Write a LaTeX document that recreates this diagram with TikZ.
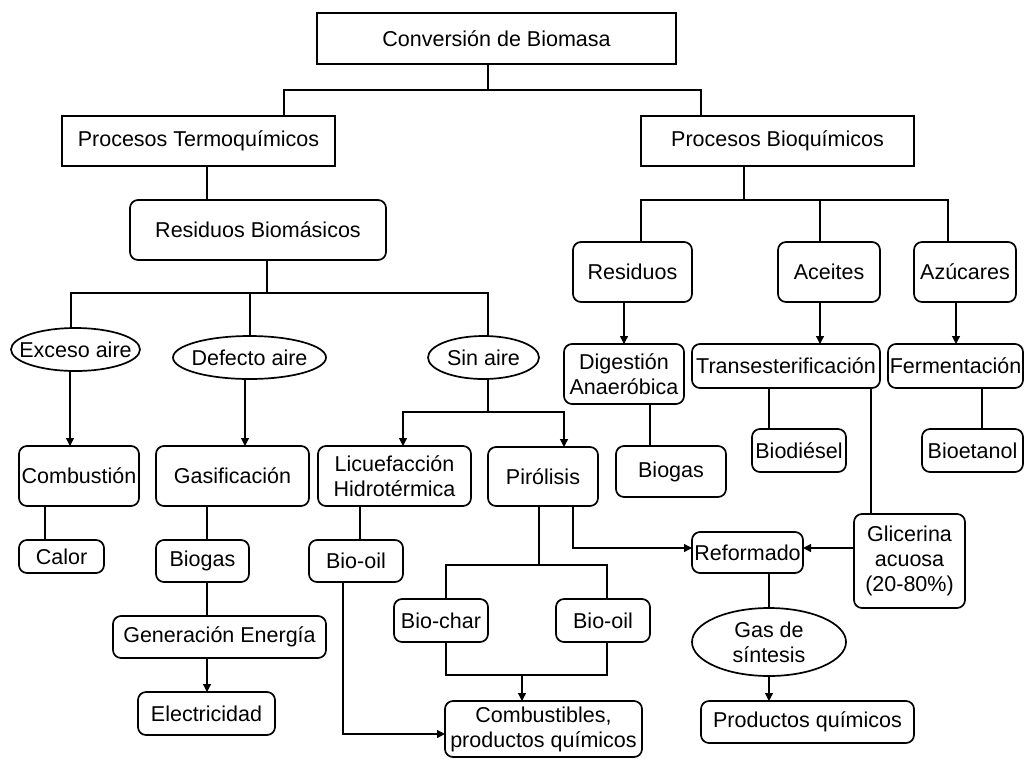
\documentclass[tikz,border=0pt]{standalone}
\usepackage{fontspec}
\setmainfont{Liberation Sans}
\usetikzlibrary{arrows.meta,shapes.geometric}
\newcommand{\zb}[1]{\makebox[0pt]{#1}}
\begin{document}
\begin{tikzpicture}[x=1pt,y=-1pt,
  every node/.style={font=\fontsize{21.5}{25}\selectfont, inner sep=0pt, outer sep=0pt},
  sq/.style={draw, line width=1.7pt, rectangle},
  rb/.style={draw, line width=1.7pt, rectangle, rounded corners=8pt},
  el/.style={draw, line width=1.7pt, ellipse},
  conn/.style={line width=1.2pt},
  arr/.style={line width=1.2pt, -{Triangle[length=8pt,width=8pt]}}]
\useasboundingbox (0,0) rectangle (1024,758);

% nodes
\node[sq, minimum width=359pt, minimum height=51pt] (conv) at (496.5,38.5) {Conversión de Biomasa};
\node[sq, minimum width=273pt, minimum height=50pt] (termo) at (198.5,141) {Procesos Termoquímicos};
\node[sq, minimum width=273pt, minimum height=50pt] (bio) at (777.5,141) {Procesos Bioquímicos};
\node[rb, minimum width=256pt, minimum height=60pt] (resbio) at (258,230) {Residuos Biomásicos};
\node[el, minimum width=129pt, minimum height=43pt] (exceso) at (75.5,349.5) {\zb{Exceso aire}};
\node[el, minimum width=153pt, minimum height=43pt] (defecto) at (249.5,357.5) {\zb{\raisebox{-4pt}{Defecto aire}}};
\node[el, minimum width=111pt, minimum height=43pt] (sinaire) at (483.5,357.5) {\zb{Sin aire}};
\node[rb, minimum width=120pt, minimum height=60pt] (combustion) at (79,476) {Combustión};
\node[rb, minimum width=153pt, minimum height=60pt] (gasif) at (232.5,476) {Gasificación};
\node[rb, minimum width=153pt, minimum height=60pt, align=center] (licuef) at (394.5,476) {Licuefacción\\Hidrotérmica};
\node[rb, minimum width=110pt, minimum height=59pt] (pirolisis) at (543,476.5) {Pirólisis};
\node[rb, minimum width=85pt, minimum height=33pt] (calor) at (61.5,556.5) {Calor};
\node[rb, minimum width=93pt, minimum height=42pt] (biogasA) at (202.5,561) {Biogas};
\node[rb, minimum width=213pt, minimum height=42pt] (gen) at (219.5,637) {Generación Energía};
\node[rb, minimum width=137pt, minimum height=43pt] (elec) at (206.5,713.5) {Electricidad};
\node[rb, minimum width=94pt, minimum height=42pt] (biooilA) at (356,561) {Bio-oil};
\node[rb, minimum width=94pt, minimum height=43pt] (biochar) at (441,620.5) {Bio-char};
\node[rb, minimum width=94pt, minimum height=43pt] (biooilB) at (603,620.5) {Bio-oil};
\node[rb, minimum width=197pt, minimum height=56pt, align=center] (comb) at (543.5,729) {Combustibles,\\productos químicos};
\node[rb, minimum width=119pt, minimum height=60pt] (resid) at (632.5,272) {Residuos};
\node[rb, minimum width=102pt, minimum height=60pt] (aceites) at (829,272) {Aceites};
\node[rb, minimum width=102pt, minimum height=60pt] (azuc) at (965,272) {Azúcares};
\node[rb, minimum width=120pt, minimum height=60pt, align=center] (dig) at (624,374) {Digestión\\Anaeróbica};
\node[rb, minimum width=188pt, minimum height=44pt] (trans) at (786,366) {Transesterificación};
\node[rb, minimum width=135pt, minimum height=44pt] (ferm) at (955.5,366) {Fermentación};
\node[rb, minimum width=94pt, minimum height=43pt] (biodiesel) at (799,450.5) {Biodiésel};
\node[rb, minimum width=101pt, minimum height=43pt] (bioetanol) at (972.5,450.5) {Bioetanol};
\node[rb, minimum width=110pt, minimum height=51pt] (biogasB) at (671,471.5) {Biogas};
\node[rb, minimum width=111pt, minimum height=41pt] (reform) at (747.5,552.5) {Reformado};
\node[rb, minimum width=111pt, minimum height=94pt, align=center] (glic) at (909.5,561) {Glicerina\\acuosa\\(20-80\%)};
\node[el, minimum width=154pt, minimum height=68pt, align=center] (gas) at (769,642) {Gas de\\síntesis};
\node[rb, minimum width=213pt, minimum height=42pt] (prodq) at (807.5,722) {Productos químicos};

% junctions
\coordinate (jTop) at (488,90);
\coordinate (jRes) at (267,293);
\coordinate (jSin) at (488,412);
\coordinate (jPir) at (539,565);
\coordinate (jChar) at (522,675);
\coordinate (jBio) at (744,200);

% top
\draw[conn] (conv.south -| jTop) -- (jTop);
\draw[conn] (termo.north -| 284,0) |- (jTop) -| (bio.north -| 701,0);

% left branch
\draw[conn] (termo.south -| 207,0) -- (resbio.north -| 207,0);
\draw[conn] (resbio.south -| jRes) -- (jRes);
\draw[conn] (exceso.north -| 71,0) |- (jRes) -| (sinaire.north -| 488,0);
\draw[conn] (jRes -| 250,0) -- (defecto.north -| 250,0);
\draw[arr] (exceso.south -| 70,0) -- (combustion.north -| 70,0);
\draw[arr] (defecto.south -| 245,0) -- (gasif.north -| 245,0);
\draw[conn] (sinaire.south -| jSin) -- (jSin);
\draw[arr] (jSin) -| (licuef.north -| 403,0);
\draw[arr] (jSin) -| (pirolisis.north -| 564,0);
\draw[conn] (combustion.south -| 45,0) -- (calor.north -| 45,0);
\draw[conn] (gasif.south -| 207,0) -- (biogasA.north -| 207,0);
\draw[conn] (biogasA.south -| 207,0) -- (gen.north -| 207,0);
\draw[arr] (gen.south -| 207,0) -- (elec.north -| 207,0);
\draw[conn] (licuef.south -| 360,0) -- (biooilA.north -| 360,0);
\draw[arr] (biooilA.south -| 343,0) |- (comb.west |- 0,734);
\draw[conn] (pirolisis.south -| jPir) -- (jPir);
\draw[conn] (biochar.north -| 446,0) |- (jPir) -| (biooilB.north -| 607,0);
\draw[conn] (biochar.south -| 446,0) |- (jChar) -| (biooilB.south -| 607,0);
\draw[arr] (jChar) -- (comb.north -| jChar);
\draw[arr] (pirolisis.south -| 573,0) |- (reform.west |- 0,548);

% right branch
\draw[conn] (bio.south -| jBio) -- (jBio);
\draw[conn] (resid.north -| 641,0) |- (jBio) -| (azuc.north -| 948,0);
\draw[conn] (jBio -| 820,0) -- (aceites.north -| 820,0);
\draw[arr] (resid.south -| 624,0) -- (dig.north -| 624,0);
\draw[arr] (aceites.south -| 820,0) -- (trans.north -| 820,0);
\draw[arr] (azuc.south -| 956,0) -- (ferm.north -| 956,0);
\draw[conn] (dig.south -| 650,0) -- (biogasB.north -| 650,0);
\draw[conn] (trans.south -| 769,0) -- (biodiesel.north -| 769,0);
\draw[conn] (trans.south -| 871,0) -- (glic.north -| 871,0);
\draw[conn] (ferm.south -| 982,0) -- (bioetanol.north -| 982,0);
\draw[arr] (glic.west |- 0,548) -- (reform.east |- 0,548);
\draw[conn] (reform.south -| gas.north) -- (gas.north);
\draw[arr] (gas.south) -- (prodq.north -| gas.south);
\end{tikzpicture}
\end{document}
